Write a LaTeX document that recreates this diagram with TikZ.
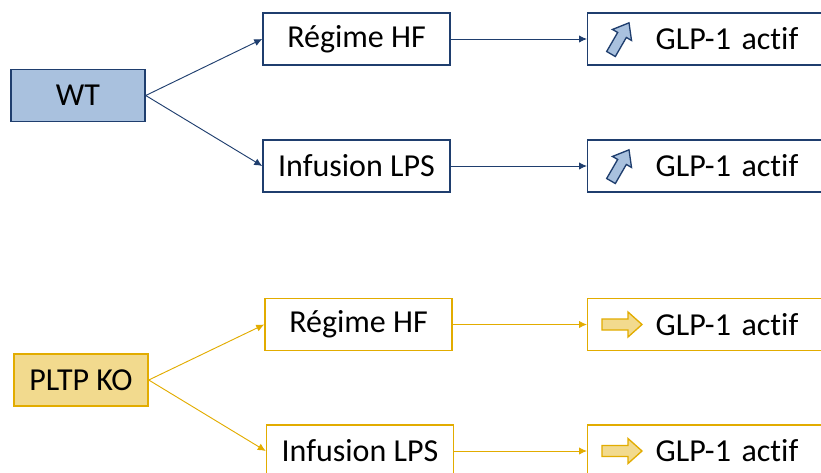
\documentclass[tikz,border=0pt]{standalone}
\usepackage{fontspec}
\setmainfont[RawFeature={-liga;-clig;-calt}]{Carlito}
\usetikzlibrary{calc, arrows.meta}

\begin{document}
\begin{tikzpicture}[x=0.75pt,y=-0.75pt,
  box/.style={draw, line width=1.1pt, fill=white, minimum height=39pt, inner sep=0pt,
    font=\fontsize{24}{28}\selectfont},
  glpbox/.style={box, anchor=west, text width=230pt, align=left},
  link/.style={-{Latex[length=6pt,width=5.5pt]}, line width=0.7pt},
  uparr/.pic={\draw[line width=1pt, fill=wtfill, draw=wtline]
    (0,-5) -- (22,-5) -- (22,-11) -- (36,0) -- (22,11) -- (22,5) -- (0,5) -- cycle;},
  rightarr/.pic={\draw[line width=1pt, fill=kofill, draw=koline]
    (0,-5.5) -- (26,-5.5) -- (26,-12.5) -- (40,0) -- (26,12.5) -- (26,5.5) -- (0,5.5) -- cycle;}]
  \definecolor{wtline}{RGB}{31,62,110}
  \definecolor{wtfill}{RGB}{169,193,222}
  \definecolor{koline}{RGB}{226,172,0}
  \definecolor{kofill}{RGB}{242,218,142}
  \path[use as bounding box, clip] (0,0) rectangle (821,472);
  % wild type
  \node[box, draw=wtline, fill=wtfill, minimum width=100.5pt] (wt) at (78,95.5) {WT};
  \node[box, draw=wtline, minimum width=140.25pt] (hfA) at (356.5,39) {Régime HF};
  \node[box, draw=wtline, minimum width=140.25pt] (lpsA) at (356.5,166) {Infusion LPS};
  \node[glpbox, draw=wtline] (glpA) at (587,39) {\hspace*{51pt}GLP-1 actif};
  \node[glpbox, draw=wtline] (glpB) at (587,166) {\hspace*{51pt}GLP-1 actif};
  \draw[link, wtline] (wt.east) -- (hfA.west);
  \draw[link, wtline] (wt.east) -- (lpsA.west);
  \draw[link, wtline] (hfA) -- (glpA);
  \draw[link, wtline] (lpsA) -- (glpB);
  \pic[rotate=60] at ($(glpA.west)+(24,15)$) {uparr};
  \pic[rotate=60] at ($(glpB.west)+(24,15)$) {uparr};
  % PLTP knock-out
  \node[box, draw=koline, fill=kofill, minimum width=100.5pt] (ko) at (81,380) {PLTP KO};
  \node[box, draw=koline, minimum width=140.25pt] (hfB) at (358.5,324.5) {Régime HF};
  \node[box, draw=koline, minimum width=140.25pt] (lpsB) at (360,451) {Infusion LPS};
  \node[glpbox, draw=koline] (glpC) at (587,324.5) {\hspace*{51pt}GLP-1 actif};
  \node[glpbox, draw=koline] (glpD) at (587,451) {\hspace*{51pt}GLP-1 actif};
  \draw[link, koline] (ko.east) -- (hfB.west);
  \draw[link, koline] (ko.east) -- (lpsB.west);
  \draw[link, koline] (hfB) -- (glpC);
  \draw[link, koline] (lpsB) -- (glpD);
  \pic at ($(glpC.west)+(15,0)$) {rightarr};
  \pic at ($(glpD.west)+(15,0)$) {rightarr};
\end{tikzpicture}
\end{document}
